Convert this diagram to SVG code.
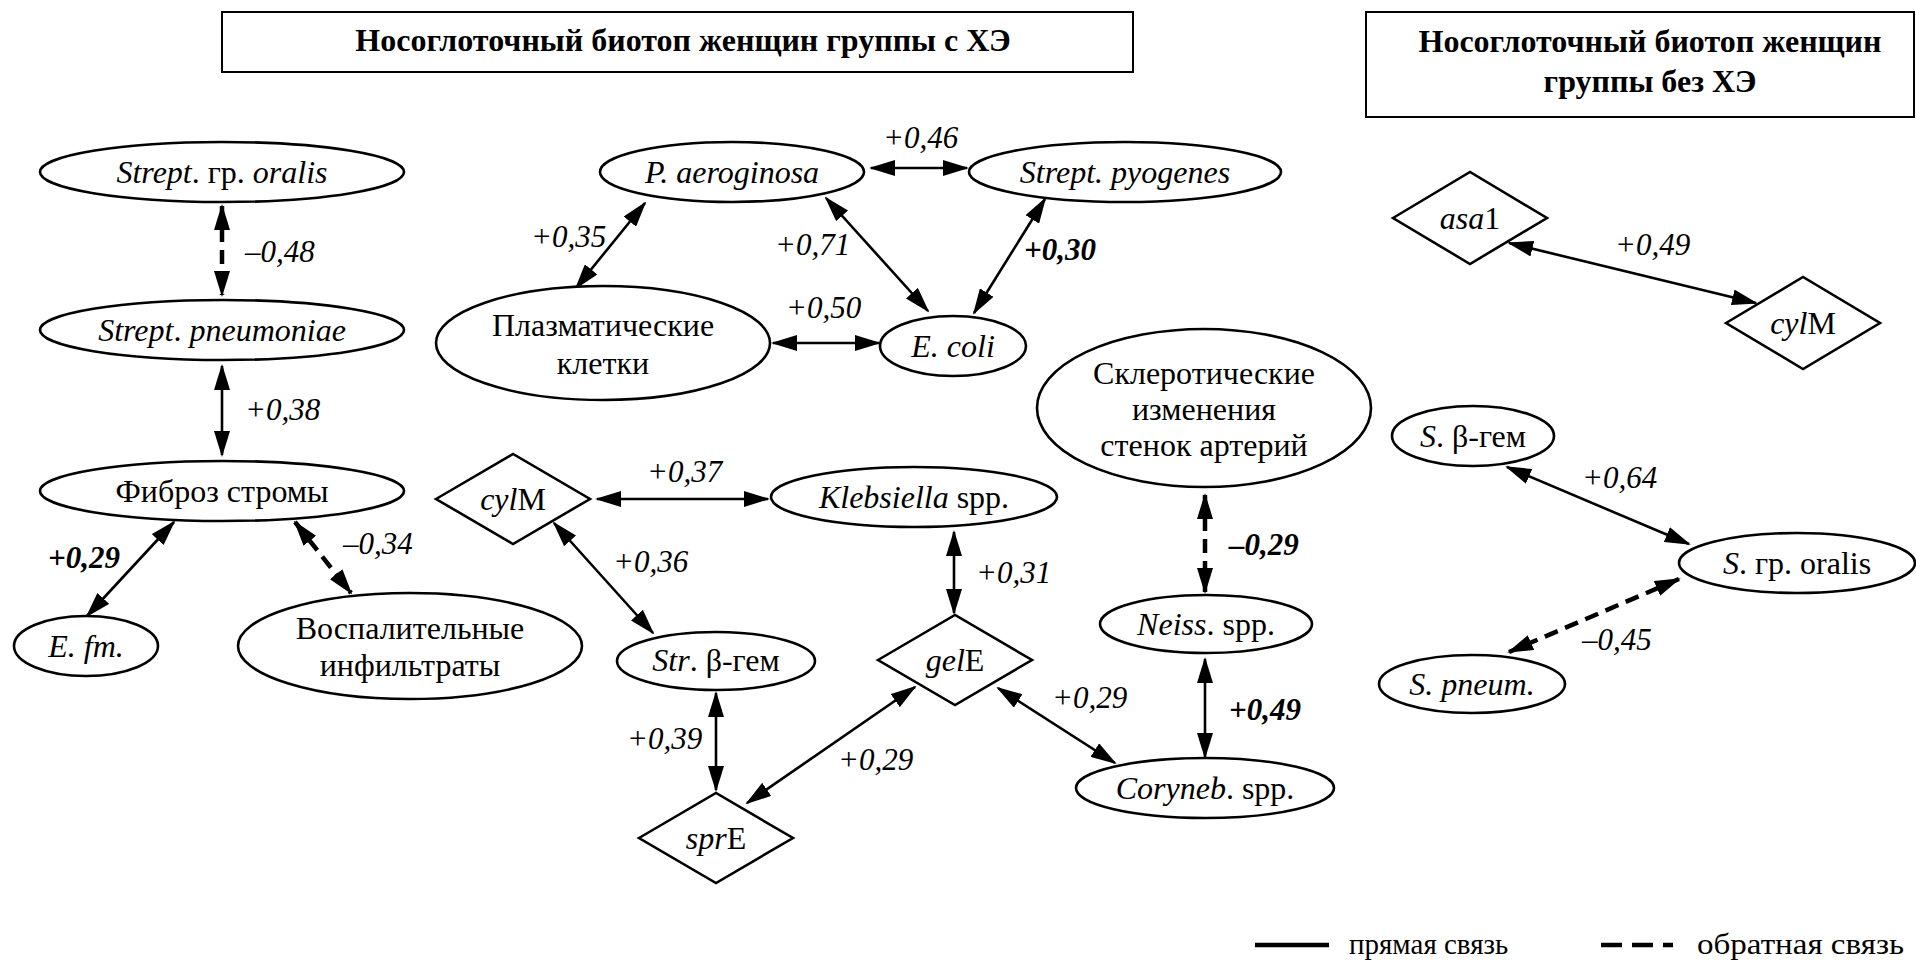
<svg xmlns="http://www.w3.org/2000/svg" width="1916" height="963" viewBox="0 0 1916 963">
<defs>
<style>
.shape{fill:#fff;stroke:#000;stroke-width:2.6}
.box{fill:#fff;stroke:#000;stroke-width:2}
.t,.title,.lbl,.leg{font-family:'Liberation Serif','Times New Roman',serif;fill:#000}
.t{font-size:32px;text-anchor:middle}
.title{font-size:32px;font-weight:bold;text-anchor:middle}
.lbl{font-size:31px;font-style:italic}
.b{font-weight:bold}
.i{font-style:italic}
.leg{font-size:29px}
.c{fill:none;stroke:#000;stroke-width:2.6;marker-start:url(#ah);marker-end:url(#ah)}
.d{fill:none;stroke:#000;stroke-width:4.5;stroke-dasharray:14 8;marker-start:url(#ah);marker-end:url(#ah)}
</style>
<marker id="ah" viewBox="0 0 26 16" refX="24" refY="8" markerWidth="26" markerHeight="16" markerUnits="userSpaceOnUse" orient="auto-start-reverse"><path d="M0,0 L26,8 L0,16 z" fill="#000"/></marker>
</defs>
<rect width="1916" height="963" fill="#fff"/>
<g font-family="'Liberation Serif', serif" fill="#000">

<g id="title-left"><rect class="box" x="222" y="12" width="911" height="60"/><text class="title" x="683" y="51" font-family="Liberation Serif">Носоглоточный биотоп женщин группы с ХЭ</text></g>
<g id="title-right"><rect class="box" x="1366" y="12" width="548" height="105"/><text class="title" x="1650" y="52" font-family="Liberation Serif">Носоглоточный биотоп женщин<tspan x="1650" dy="40">группы без ХЭ</tspan></text></g>

<g id="connectors">
<line class="d" x1="222" y1="206" x2="222" y2="295"/>
<line class="c" x1="222" y1="366" x2="222" y2="455"/>
<line class="c" x1="174" y1="522" x2="87" y2="616"/>
<line class="d" x1="295" y1="522" x2="351" y2="593"/>
<line class="c" x1="576" y1="288" x2="645" y2="203"/>
<line class="c" x1="871" y1="168" x2="967" y2="168"/>
<line class="c" x1="826" y1="198" x2="928" y2="311"/>
<line class="c" x1="1045" y1="199" x2="974" y2="313"/>
<line class="c" x1="773" y1="343" x2="879" y2="343"/>
<line class="c" x1="597" y1="499" x2="768" y2="499"/>
<line class="c" x1="554" y1="523" x2="653" y2="633"/>
<line class="c" x1="954" y1="532" x2="954" y2="613"/>
<line class="c" x1="716" y1="693" x2="716" y2="790"/>
<line class="c" x1="747" y1="803" x2="915" y2="687"/>
<line class="c" x1="998" y1="688" x2="1115" y2="763"/>
<line class="d" x1="1205" y1="495" x2="1205" y2="592"/>
<line class="c" x1="1205" y1="659" x2="1205" y2="757"/>
<line class="c" x1="1509" y1="243" x2="1756" y2="303"/>
<line class="c" x1="1507" y1="467" x2="1689" y2="544"/>
<line class="d" x1="1679" y1="579" x2="1509" y2="652"/>
<text class="lbl" font-family="Liberation Serif" x="245" y="262">–0,48</text>
<text class="lbl" font-family="Liberation Serif" x="245" y="420">+0,38</text>
<text class="lbl b" font-family="Liberation Serif" x="48" y="568">+0,29</text>
<text class="lbl" font-family="Liberation Serif" x="343" y="554">–0,34</text>
<text class="lbl" font-family="Liberation Serif" x="531" y="247">+0,35</text>
<text class="lbl" font-family="Liberation Serif" x="883" y="148">+0,46</text>
<text class="lbl" font-family="Liberation Serif" x="775" y="255">+0,71</text>
<text class="lbl b" font-family="Liberation Serif" x="1024" y="260">+0,30</text>
<text class="lbl" font-family="Liberation Serif" x="786" y="318">+0,50</text>
<text class="lbl" font-family="Liberation Serif" x="647" y="482">+0,37</text>
<text class="lbl" font-family="Liberation Serif" x="613" y="572">+0,36</text>
<text class="lbl" font-family="Liberation Serif" x="976" y="583">+0,31</text>
<text class="lbl" font-family="Liberation Serif" x="627" y="749">+0,39</text>
<text class="lbl" font-family="Liberation Serif" x="838" y="770">+0,29</text>
<text class="lbl" font-family="Liberation Serif" x="1052" y="708">+0,29</text>
<text class="lbl b" font-family="Liberation Serif" x="1229" y="555">–0,29</text>
<text class="lbl b" font-family="Liberation Serif" x="1229" y="720">+0,49</text>
<text class="lbl" font-family="Liberation Serif" x="1615" y="255">+0,49</text>
<text class="lbl" font-family="Liberation Serif" x="1582" y="488">+0,64</text>
<text class="lbl" font-family="Liberation Serif" x="1582" y="650">–0,45</text>
</g>

<g id="n-strept-oralis"><ellipse class="shape" cx="222" cy="172" rx="182" ry="30"/><text class="t" font-family="Liberation Serif" x="222" y="183"><tspan class="i">Strept</tspan>. гр. <tspan class="i">oralis</tspan></text></g>
<g id="n-strept-pneumoniae"><ellipse class="shape" cx="222" cy="330" rx="182" ry="30"/><text class="t" font-family="Liberation Serif" x="222" y="341"><tspan class="i">Strept</tspan>. <tspan class="i">pneumoniae</tspan></text></g>
<g id="n-fibroz"><ellipse class="shape" cx="222" cy="491" rx="182" ry="30"/><text class="t" font-family="Liberation Serif" x="222" y="502">Фиброз стромы</text></g>
<g id="n-efm"><ellipse class="shape" cx="86" cy="646" rx="72" ry="30"/><text class="t i" font-family="Liberation Serif" x="86" y="657">E. fm.</text></g>
<g id="n-vospal"><ellipse class="shape" cx="410" cy="646" rx="172" ry="53"/><text class="t" font-family="Liberation Serif" x="410" y="639">Воспалительные<tspan x="410" dy="37">инфильтраты</tspan></text></g>

<g id="n-paeroginosa"><ellipse class="shape" cx="732" cy="172" rx="132" ry="30"/><text class="t i" font-family="Liberation Serif" x="732" y="183">P. aeroginosa</text></g>
<g id="n-pyogenes"><ellipse class="shape" cx="1125" cy="172" rx="156" ry="30"/><text class="t i" font-family="Liberation Serif" x="1125" y="183">Strept. pyogenes</text></g>
<g id="n-plasma"><ellipse class="shape" cx="603" cy="343" rx="167" ry="57"/><text class="t" font-family="Liberation Serif" x="603" y="336">Плазматические<tspan x="603" dy="38">клетки</tspan></text></g>
<g id="n-ecoli"><ellipse class="shape" cx="953" cy="346" rx="73" ry="30"/><text class="t i" font-family="Liberation Serif" x="953" y="357">E. coli</text></g>
<g id="n-cylm-left"><polygon class="shape" points="436,499 513,454 590,499 513,544"/><text class="t" font-family="Liberation Serif" x="513" y="510"><tspan class="i">cyl</tspan>M</text></g>
<g id="n-klebsiella"><ellipse class="shape" cx="914" cy="497" rx="143" ry="30"/><text class="t" font-family="Liberation Serif" x="914" y="508"><tspan class="i">Klebsiella</tspan> spp.</text></g>
<g id="n-str-bgem"><ellipse class="shape" cx="716" cy="661" rx="99" ry="29"/><text class="t" font-family="Liberation Serif" x="716" y="671"><tspan class="i">Str</tspan>. β-гем</text></g>
<g id="n-gele"><polygon class="shape" points="878,660 955,615 1032,660 955,705"/><text class="t" font-family="Liberation Serif" x="955" y="671"><tspan class="i">gel</tspan>E</text></g>
<g id="n-spre"><polygon class="shape" points="639,838 716,793 793,838 716,883"/><text class="t" font-family="Liberation Serif" x="716" y="849"><tspan class="i">spr</tspan>E</text></g>
<g id="n-skler"><ellipse class="shape" cx="1204" cy="408" rx="167" ry="79"/><text class="t" font-family="Liberation Serif" x="1204" y="384">Склеротические<tspan x="1204" dy="36">изменения</tspan><tspan x="1204" dy="36">стенок артерий</tspan></text></g>
<g id="n-neiss"><ellipse class="shape" cx="1206" cy="624" rx="106" ry="29"/><text class="t" font-family="Liberation Serif" x="1206" y="635"><tspan class="i">Neiss</tspan>. spp.</text></g>
<g id="n-coryneb"><ellipse class="shape" cx="1205" cy="788" rx="129" ry="30"/><text class="t" font-family="Liberation Serif" x="1205" y="799"><tspan class="i">Coryneb</tspan>. spp.</text></g>

<g id="n-asa1"><polygon class="shape" points="1393,218 1470,172 1547,218 1470,264"/><text class="t" font-family="Liberation Serif" x="1470" y="229"><tspan class="i">asa</tspan>1</text></g>
<g id="n-cylm-right"><polygon class="shape" points="1726,323 1803,277 1880,323 1803,369"/><text class="t" font-family="Liberation Serif" x="1803" y="334"><tspan class="i">cyl</tspan>M</text></g>
<g id="n-s-bgem"><ellipse class="shape" cx="1473" cy="436" rx="81" ry="30"/><text class="t" font-family="Liberation Serif" x="1473" y="447"><tspan class="i">S</tspan>. β-гем</text></g>
<g id="n-s-oralis"><ellipse class="shape" cx="1797" cy="563" rx="118" ry="30"/><text class="t" font-family="Liberation Serif" x="1797" y="574"><tspan class="i">S</tspan>. гр. oralis</text></g>
<g id="n-s-pneum"><ellipse class="shape" cx="1472" cy="684" rx="93" ry="29"/><text class="t i" font-family="Liberation Serif" x="1472" y="695">S. pneum.</text></g>

<g id="legend">
<line x1="1255" y1="945" x2="1329" y2="945" stroke="#000" stroke-width="4.5"/>
<text class="leg" font-family="Liberation Serif" x="1349" y="954">прямая связь</text>
<line x1="1601" y1="945" x2="1673" y2="945" stroke="#000" stroke-width="4.5" stroke-dasharray="21 10"/>
<text class="leg" font-family="Liberation Serif" x="1697" y="954" textLength="207" lengthAdjust="spacingAndGlyphs">обратная связь</text>
</g>
</g>
</svg>
